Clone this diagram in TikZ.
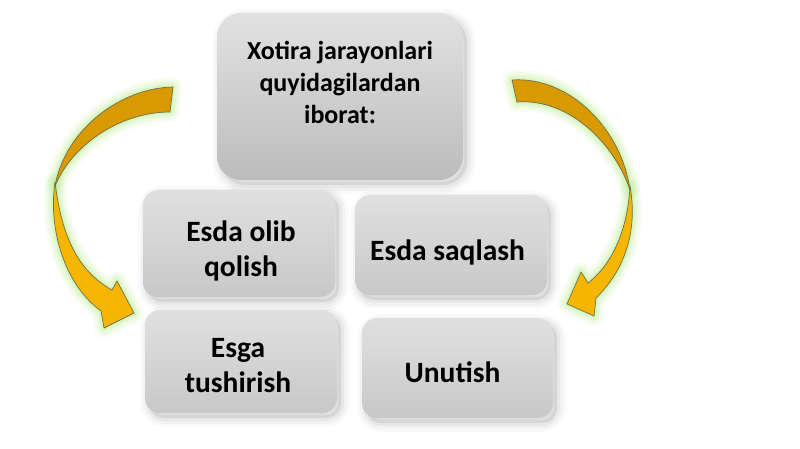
\documentclass[tikz,border=0pt]{standalone}
\usepackage{fontspec}
\setmainfont{Carlito}
\definecolor{glowc}{RGB}{185,240,140}
\definecolor{arrdark}{RGB}{216,154,0}
\definecolor{arrlight}{RGB}{246,182,0}
\definecolor{arredge}{RGB}{110,110,80}
\definecolor{boxtop}{RGB}{224,224,224}
\definecolor{boxbot}{RGB}{200,200,200}
\begin{document}
\begin{tikzpicture}[x=1pt,y=-1pt,
  gbox/.style={rectangle, rounded corners=15pt, inner sep=0pt,
    top color=boxtop, bottom color=boxbot,
    preaction={draw=black, line width=18pt, opacity=0.02, transform canvas={shift={(4pt,-5pt)}}},
    preaction={draw=black, line width=12pt, opacity=0.03, transform canvas={shift={(4pt,-5pt)}}},
    preaction={draw=black, line width=6pt, opacity=0.04, transform canvas={shift={(4pt,-5pt)}}},
    preaction={fill=black, opacity=0.08, transform canvas={shift={(4pt,-5pt)}}}},
  txt/.style={align=center, inner sep=0pt, text=black},
  bigfont/.style={font=\fontsize{26}{32}\selectfont\bfseries},
  smallfont/.style={font=\fontsize{29.5}{35}\selectfont\bfseries},
  glowline/.style={draw=glowc, line join=round, line width=#1},
  arrowfill/.style={fill=#1, draw=arredge, line width=0.7pt, line join=round}
]
\useasboundingbox (0,0) rectangle (800,449);
\fill[white] (0,0) rectangle (800,449);

% ribbon arrows
\def\LAdark{(173,87) .. controls (120,88) and (65,130) .. (55,186) .. controls (72,145) and (120,112) .. (170,112) -- cycle}
\def\LAlight{(55,182) .. controls (62,240) and (80,272) .. (112,290) -- (117,281) -- (134,313) -- (104,328) -- (101,311) .. controls (65,285) and (48,230) .. (55,182) -- cycle}
\def\RAdark{(512,80) .. controls (570,76) and (622,130) .. (630,190) .. controls (615,145) and (570,98) .. (517,102) -- cycle}
\def\RAlight{(630,186) .. controls (638,230) and (625,270) .. (596,298) -- (594,316) -- (567,304) -- (581,272) -- (588,283) .. controls (615,262) and (628,225) .. (630,186) -- cycle}

\foreach \w/\o in {20/0.08, 15/0.12, 10/0.18, 5/0.3}{
  \draw[glowline=\w pt, opacity=\o] \LAdark;
  \draw[glowline=\w pt, opacity=\o] \LAlight;
  \draw[glowline=\w pt, opacity=\o] \RAdark;
  \draw[glowline=\w pt, opacity=\o] \RAlight;
}
\path[arrowfill=arrlight] \LAlight;
\path[arrowfill=arrdark] \LAdark;
\path[arrowfill=arrlight] \RAlight;
\path[arrowfill=arrdark] \RAdark;

% boxes
\node[gbox, rounded corners=24pt, minimum width=246pt, minimum height=167pt,
  top color=boxtop!95!white, bottom color=boxbot!94!black] (top) at (340,96.5) {};
\node[gbox, minimum width=192pt, minimum height=107pt] (tl) at (239,243.5) {};
\node[gbox, minimum width=192pt, minimum height=100pt] (tr) at (451,245) {};
\node[gbox, minimum width=192pt, minimum height=103pt] (bl) at (241,361.5) {};
\node[gbox, minimum width=191pt, minimum height=100pt] (br) at (457.5,368) {};

% texts
\node[txt, bigfont, anchor=north] (toptext) at (340,41) {Xotira jarayonlari\\quyidagilardan\\iborat:};
\node[txt, smallfont, anchor=north] (tltext) at (241,221) {Esda olib\\qolish};
\node[txt, smallfont, anchor=north] (bltext) at (238,338) {Esga\\tushirish};
\node[txt, smallfont, anchor=base] (trtext) at (447.5,260) {Esda saqlash};
\node[txt, smallfont, anchor=base] (brtext) at (452.5,382) {Unutish};
\end{tikzpicture}
\end{document}
